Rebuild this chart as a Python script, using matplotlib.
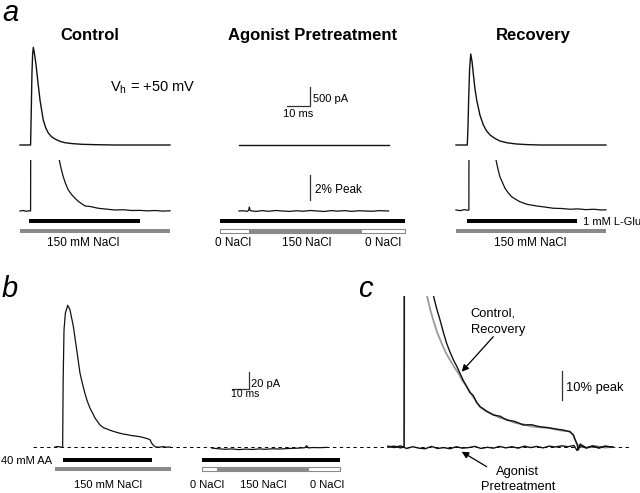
import matplotlib.pyplot as plt

plt.rcParams['font.family'] = ['Liberation Sans', 'DejaVu Sans']
plt.rcParams['mathtext.default'] = 'regular'

# ---- panel a: 1 mM L-Glu responses (time in ms, current in pA, tail in % of peak)
ctl_top_t = [0, 4.6, 4.9, 5.2, 5.5, 5.8, 6.3, 7.0, 7.8, 8.7, 10.1, 11.2, 12.3, 13.7,
             15.2, 17.4, 19.6, 23.0, 27.0, 33.0, 41.3, 65.2]
ctl_top_i = [0, 0, 900, 1900, 2400, 2571, 2400, 2100, 1650, 1184, 658, 450, 316, 220,
             158, 95, 60, 35, 18, 8, 0, 0]
rec_top_t = [0, 4.9, 5.2, 5.5, 5.9, 6.4, 7.0, 7.5, 8.2, 9.0, 10.4, 11.9, 13.2, 14.8,
             17.0, 19.1, 22.5, 26.4, 31.0, 36.5, 65.2]
rec_top_i = [0, 0, 450, 1200, 1974, 2395, 2184, 1887, 1500, 1184, 789, 526, 380, 263,
             170, 105, 55, 26, 10, 0, 0]
ago_top_t = [0, 65.2]
ago_top_i = [0, 0]

ctl_bot_t = [0, 1.5, 2.7, 3.6, 4.6, 5.8, 10.1, 15.2, 17.1, 17.8, 18.8, 19.8, 21.0, 22.3,
             23.9, 25.5, 28.3, 30.5, 34.0, 37.0, 41.3, 45.0, 48.5, 52.2, 55.5, 58.8, 62.0, 65.2]
ctl_bot_p = [0, 0.04, -0.03, 0.02, 0, 100, 25.6, 6.1, 4.08, 3.45, 2.74, 2.2, 1.68, 1.35,
             1.02, 0.75, 0.40, 0.36, 0.22, 0.16, 0.08, 0.10, 0.04, 0.05, 0.01, 0.04, -0.01, 0.02]
ago_bot_t = [0, 2.0, 3.5, 4.2, 4.5, 4.8, 5.5, 7.5, 10, 13, 16, 19, 22, 25, 28, 31, 34,
             37, 40, 43, 46, 49, 52, 55, 58, 61, 65]
ago_bot_p = [0, 0.02, -0.03, 0.05, 0.32, 0.06, 0.0, -0.03, 0.03, -0.02, 0.04, 0.0, -0.03,
             0.02, -0.02, 0.04, 0.0, -0.04, 0.03, -0.01, 0.03, -0.03, 0.02, 0.0, -0.02, 0.03, 0.0]
rec_bot_t = [0, 2.0, 3.5, 5.0, 5.6, 6.4, 11.9, 14.8, 17.4, 18.2, 19.1, 20.2, 21.3, 22.6,
             24.2, 26.0, 27.8, 31.0, 35.1, 38.5, 42.3, 46.0, 49.6, 53.0, 56.5, 60.0, 63.0, 65.2]
rec_bot_p = [0, -0.05, 0.03, -0.02, 0, 100, 22, 11, 4.0, 3.3, 2.66, 2.2, 1.74, 1.4,
             1.06, 0.85, 0.66, 0.45, 0.32, 0.24, 0.14, 0.12, 0.06, 0.09, 0.03, 0.06, 0.0, 0.02]

# solution bars (start, stop) in ms
ctl_glu, ctl_nacl = (3.9, 52.2), (0, 65.2)
ago_glu, ago_zero, ago_nacl = (-8.3, 72.2), (-8.3, 72.2), (4.3, 53.5)
rec_glu, rec_nacl = (4.8, 52.6), (0, 65.2)

# ---- panel b: 40 mM AA (time ms, current pA)
b_ctl_t = [0, 2.0, 4.0, 4.5, 4.8, 5.3, 6.1, 7.5, 8.8, 10.8, 12.8, 14.7, 16.0, 17.6, 19.0,
           20.6, 22.0, 23.5, 25.0, 26.5, 28.5, 30.5, 32.4, 35.0, 37.5, 40.0, 42.5, 45.0,
           47.5, 50.0, 52.5, 54.9, 56.0, 56.9, 57.8, 58.8, 61.0, 63.5, 65.5, 67.6]
b_ctl_i = [0, 0.5, -0.3, 0, 76, 133, 152, 161, 156, 137, 110, 84, 73, 61, 52,
           44, 39, 33, 29, 25, 22, 20.5, 19, 17.4, 16, 14.8, 14.0, 13, 12.4, 11.7, 10.5,
           9.1, 8, 4.2, 2.2, 0.3, -0.3, 0.4, -0.2, 0]
b_ago_t = [92.2, 96, 100, 104, 108, 112, 116, 120, 124, 128, 132, 136, 140, 144, 147,
           148, 149, 152, 156, 159.8]
b_ago_i = [-1.2, -2.0, -2.6, -2.2, -3.0, -2.4, -2.8, -2.2, -2.6, -2.0, -2.3, -1.8, -1.5,
           -1.2, -0.8, 1.5, -1.0, -0.6, -0.8, -0.4]
b_ctl_aa, b_ctl_nacl = (4.7, 57.1), (0, 68.2)
b_ago_aa, b_ago_zero, b_ago_nacl = (86.3, 167.6), (86.3, 167.6), (95.1, 149.6)

# ---- panel c: normalised AA responses (time ms, % peak)
c_ctl_t = [0, 2, 4, 5.2, 5.3, 14.6, 15.7, 16.8, 17.9, 18.9, 20.0, 21.1, 22.2, 23.2, 24.3,
           25.4, 26.4, 27.5, 28.6, 29.7, 31.9, 34.0, 36.2, 38.3, 41.0, 43.6, 46.3, 49.0,
           51.7, 54.4, 56.5, 58.7, 59.3, 59.8, 60.4, 60.9, 61.4, 61.9, 64, 66, 68, 70, 72.6]
c_ctl_p = [0, 0.3, -0.3, 0, 100, 51.9, 47.2, 43.3, 39.0, 35.4, 32.4, 29.7, 27.5, 25.2, 22.7,
           20.6, 18.6, 17.6, 15.2, 13.8, 12.2, 10.9, 10.5, 9.2, 8.7, 7.5, 7.6, 6.9,
           6.6, 6.1, 5.8, 5.2, 4.6, 4.1, 2.4, 1.3, -1.0, 0.4, -0.3, 0.3, -0.4, 0.2, 0]
c_rec_t = [0, 5.2, 5.3, 12.5, 13.6, 14.6, 15.9, 17.3, 18.6, 20.0, 21.4, 22.7, 24.0, 25.4,
           27.5, 29.7, 31.9, 34.0, 36.2, 38.3, 41.0, 43.6, 46.3, 49.0, 51.7, 54.4, 56.5,
           58.7, 59.8, 60.9, 61.9, 64, 67, 70, 72.6]
c_rec_p = [0, 0, 100, 51.9, 47.0, 43.3, 39.0, 35.4, 32.3, 29.7, 27.2, 25.2, 22.6, 20.6,
           17.0, 13.6, 12.0, 11.1, 9.9, 9.4, 8.2, 7.8, 7.0, 6.7, 6.5, 5.9, 5.5,
           5.3, 4.0, 1.0, 0.2, -0.3, 0.3, -0.2, 0]
c_ago_t = [0, 2, 4, 6, 8, 10, 12, 14, 16, 18, 20, 22, 24, 26, 28, 30, 32, 34, 36, 38, 40,
           42, 44, 46, 48, 50, 52, 54, 56, 58, 60, 61, 62, 64, 66, 68, 70, 72.3]
c_ago_p = [0.3, -0.2, 0.4, -0.5, 0.1, -0.4, -0.6, 0.2, -0.5, -0.2, -0.6, 0.1, -0.4, -0.2,
           0.2, -0.5, -0.1, -0.4, 0.2, -0.3, 0.1, -0.4, 0.3, -0.2, 0.2, -0.3, 0.3, 0.0,
           0.4, 0.1, 0.5, -1.2, 1.0, -0.3, 0.4, -0.2, 0.3, 0]

W, H = 640, 493
fig = plt.figure(figsize=(6.4, 4.93), dpi=100)
TR = '#111111'
GRAY = '#8a8a8a'
SB = '#333333'


def box(l, t, r, b):
    return [l / W, 1 - b / H, (r - l) / W, (b - t) / H]


def trace_ax(x0, y0, sx, sy, l, t, r, b):
    # data origin sits at pixel (x0, y0); sx, sy = pixels per data unit
    ax = fig.add_axes(box(l, t, r, b))
    ax.set_xlim((l - x0) / sx, (r - x0) / sx)
    ax.set_ylim((y0 - b) / sy, (y0 - t) / sy)
    ax.axis('off')
    return ax


def strip_ax(x0, sx, l, t, r, b):
    ax = fig.add_axes(box(l, t, r, b))
    ax.set_xlim((l - x0) / sx, (r - x0) / sx)
    ax.set_ylim(b - t, 0)
    ax.axis('off')
    return ax


def bar(ax, span, row, face, edge=None):
    ax.broken_barh([(span[0], span[1] - span[0])], (row - 2.1, 4.2),
                   facecolors=face, edgecolors=edge if edge else 'none',
                   linewidth=0.8 if edge else 0)


# ---------------- panel a
SX_A, SY_A, SP_A = 2.3, 0.038, 12.5
cols = [(20, 211, 10, 200, ctl_top_t, ctl_top_i, ctl_bot_t, ctl_bot_p),
        (239, 211, 212, 410, ago_top_t, ago_top_i, ago_bot_t, ago_bot_p),
        (456, 210, 446, 615, rec_top_t, rec_top_i, rec_bot_t, rec_bot_p)]
axes_a = []
for x0, yb, l, r, tt, ti, bt, bp in cols:
    ax_top = trace_ax(x0, 145, SX_A, SY_A, l, 40, r, 152)
    ax_top.plot(tt, ti, color=TR, lw=1.0)
    ax_bot = trace_ax(x0, yb, SX_A, SP_A, l, 160, r, 216)
    ax_bot.plot(bt, bp, color=TR, lw=0.9)
    ax_bar = strip_ax(x0, SX_A, l, 216, r, 236)
    axes_a.append((ax_top, ax_bot, ax_bar))

bar(axes_a[0][2], ctl_glu, 4.7, 'black')
bar(axes_a[0][2], ctl_nacl, 15, GRAY)
bar(axes_a[1][2], ago_glu, 4.7, 'black')
bar(axes_a[1][2], ago_zero, 15, 'white', GRAY)
bar(axes_a[1][2], ago_nacl, 15, GRAY)
bar(axes_a[2][2], rec_glu, 4.7, 'black')
bar(axes_a[2][2], rec_nacl, 15, GRAY)

# scale bars: 10 ms / 500 pA and 2 % peak
ax = axes_a[1][0]
ax.plot([20.9, 30.9, 30.9], [1026, 1026, 1526], color=SB, lw=0.9)
axes_a[1][1].plot([30.9, 30.9], [0.88, 2.88], color=SB, lw=0.9)

# ---------------- panel b
SX_B, SY_B = 1.7, 0.88
ax_b = trace_ax(55, 447, SX_B, SY_B, 33, 290, 380, 455)
ax_b.axhline(0, color='black', lw=0.7, ls=(0, (3.5, 3.5)))
ax_b.plot(b_ctl_t, b_ctl_i, color=TR, lw=0.9)
ax_b.plot(b_ago_t, b_ago_i, color=TR, lw=0.9)
ax_b.plot([103.9, 113.9, 113.9], [65.5, 65.5, 85.5], color=SB, lw=0.9)
ax_bs = strip_ax(55, SX_B, 33, 455, 380, 475)
bar(ax_bs, b_ctl_aa, 5, 'black')
bar(ax_bs, b_ctl_nacl, 14.3, GRAY)
bar(ax_bs, b_ago_aa, 5, 'black')
bar(ax_bs, b_ago_zero, 14.3, 'white', GRAY)
bar(ax_bs, b_ago_nacl, 14.3, GRAY)

# ---------------- panel c
ax_c = trace_ax(388, 447, 3.1, 2.93, 380, 296, 632, 460)
ax_c.axhline(0, color='black', lw=0.7, ls=(0, (3.5, 3.5)))
ax_c.plot(c_rec_t, c_rec_p, color='#9a9a9a', lw=1.3)
ax_c.plot(c_ago_t, c_ago_p, color=TR, lw=1.0)
ax_c.plot(c_ctl_t, c_ctl_p, color=TR, lw=1.0)
ax_c.plot([56.1, 56.1], [16.0, 26.0], color=SB, lw=0.9)

# ---------------- labels (overlay in pixel coordinates, text baselines)
ov = fig.add_axes([0, 0, 1, 1], facecolor='none')
ov.set_xlim(0, W)
ov.set_ylim(H, 0)
ov.axis('off')


def label(x, y, s, size, ha='left', **kw):
    ov.text(x, y, s, fontsize=size, ha=ha, va='baseline', **kw)


for s, x, y in [('a', 2, 20.7), ('b', 2, 296.7), ('c', 358, 296.7)]:
    label(x, y, s, 21, style='italic')

for s, x in [('Control', 89.7), ('Agonist Pretreatment', 313), ('Recovery', 533.3)]:
    label(x, 40, s, 12, ha='center', fontweight='bold')

label(110, 92, 'V$_\\mathregular{h}$ = +50 mV', 10.5)
label(313, 101.7, '500 pA', 8)
label(282.7, 117.3, '10 ms', 8)
label(315, 192.7, '2% Peak', 8.5)
label(583, 225, '1 mM L-Glu', 8)
for s, x in [('150 mM NaCl', 83.3), ('0 NaCl', 233.3), ('150 NaCl', 306.7),
             ('0 NaCl', 383.3), ('150 mM NaCl', 530.3)]:
    label(x, 246, s, 8.5, ha='center')

label(0.7, 464, '40 mM AA', 8)
label(250.7, 386.7, '20 pA', 8)
label(231, 397.3, '10 ms', 7.5)
for s, x in [('150 mM NaCl', 108.3), ('0 NaCl', 206.7), ('150 NaCl', 263.3),
             ('0 NaCl', 327.5)]:
    label(x, 488.3, s, 8, ha='center')

label(470.7, 316.7, 'Control,', 9.3)
label(470.7, 333.3, 'Recovery', 9.3)
label(565.7, 391, '10% peak', 9.3)
label(517, 474.5, 'Agonist', 9.3, ha='center')
label(518.3, 489.5, 'Pretreatment', 9.3, ha='center')

arrow = dict(arrowstyle='-|>', color='black', lw=0.9, mutation_scale=10,
             shrinkA=0, shrinkB=0)
ov.annotate('', xy=(461.7, 371.7), xytext=(493.3, 336.7), arrowprops=arrow)
ov.annotate('', xy=(461.7, 451.7), xytext=(486.7, 466.7), arrowprops=arrow)

fig.savefig('out.png', dpi=100)
